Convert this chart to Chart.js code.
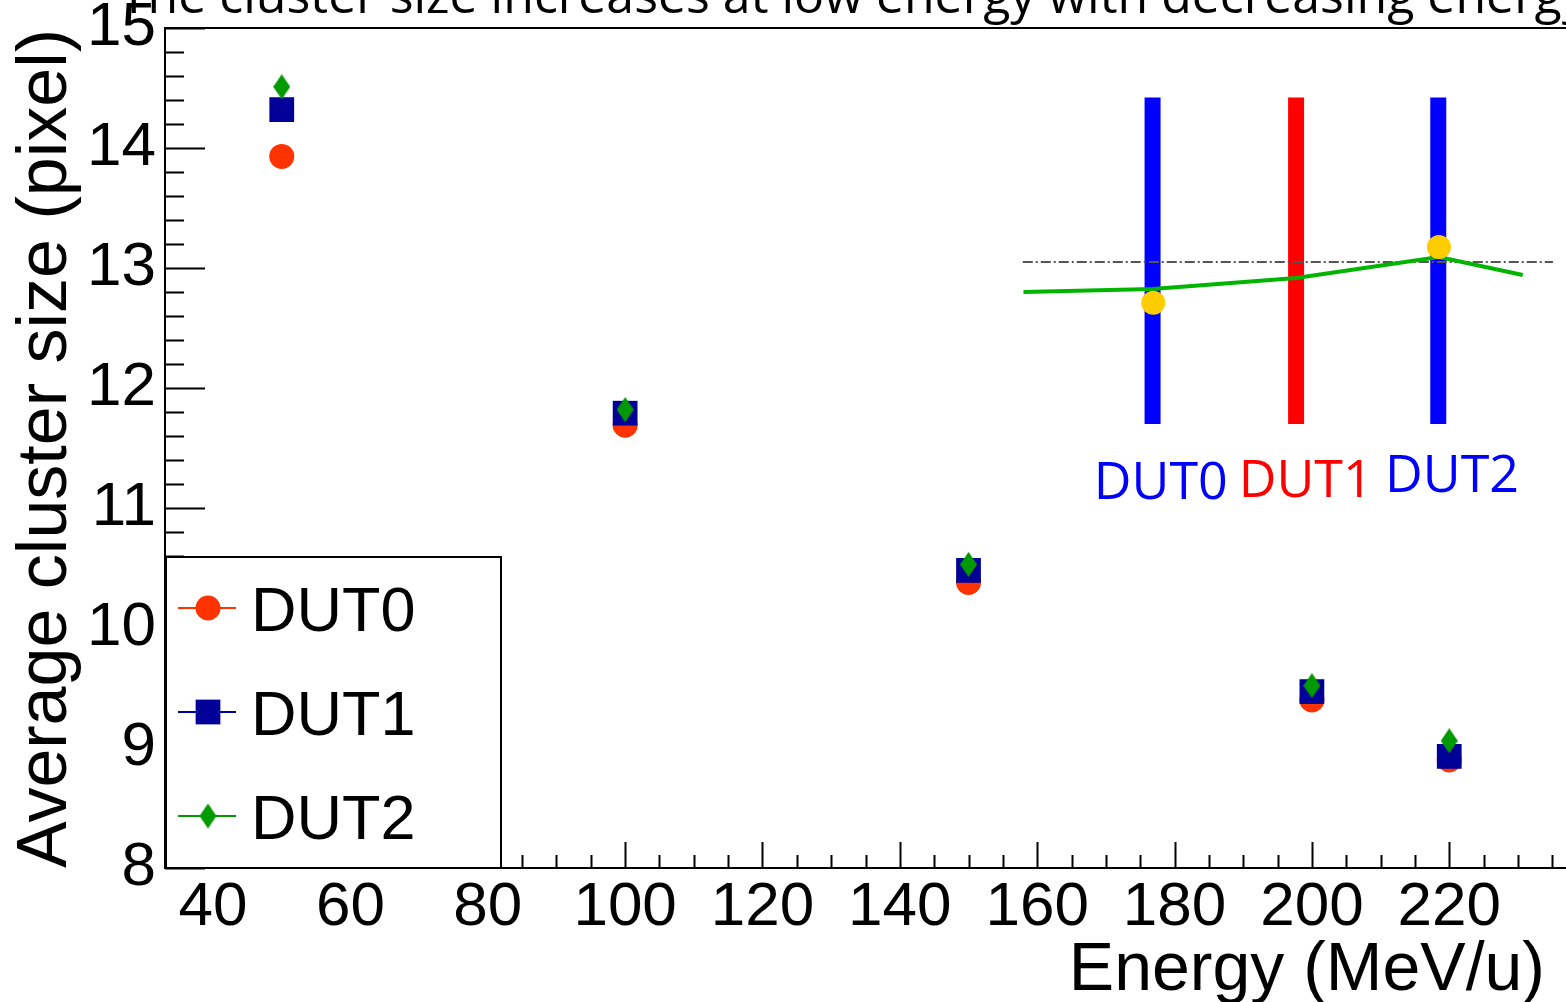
<!DOCTYPE html>
<html>
<head>
<meta charset="utf-8">
<script src="https://cdn.jsdelivr.net/npm/chart.js@4.4.1/dist/chart.umd.min.js"></script>
<style>
  html, body { margin: 0; padding: 0; background: #fff; overflow: hidden; }
  #wrap { width: 1566px; height: 1002px; position: relative; }
</style>
</head>
<body>
<div id="wrap"><canvas id="chart"></canvas></div>
<script>
const energy = [50, 100, 150, 200, 220];
const dut0Size = [13.93, 11.69, 10.38, 9.40, 8.90];
const dut1Size = [14.32, 11.79, 10.48, 9.47, 8.93];
const dut2Size = [14.51, 11.82, 10.53, 9.52, 9.06];
const seriesNames = ['DUT0', 'DUT1', 'DUT2'];
const xTickValues = [40, 60, 80, 100, 120, 140, 160, 180, 200, 220];
const yTickValues = [8, 9, 10, 11, 12, 13, 14, 15];

// inset sketch, drawn on the same axes
const insetBarX = [176.8, 197.7, 218.4];
const insetBarY = [11.70, 14.42];
const insetCurveX = [158.0, 176.8, 197.7, 218.5, 230.7];
const insetCurveY = [12.80, 12.825, 12.917, 13.092, 12.942];
const insetDotX = [176.9, 218.5];
const insetDotY = [12.71, 13.175];
const insetRefX = [157.9, 235.1];
const insetRefY = 13.05;
const insetLabels = ['DUT0', 'DUT1', 'DUT2'];

const titleText = 'The cluster size increases at low energy with decreasing energy';
const xTitle = 'Energy (MeV/u)';
const yTitle = 'Average cluster size (pixel)';

const colors = ['#ff3300', '#000099', '#009900'];
const HELV = "'Liberation Sans', Arial, sans-serif";
const OPEN = "'Open Sans', sans-serif";

function makeDiamond(color, w, h) {
    const c = document.createElement('canvas');
    c.width = w; c.height = h;
    const g = c.getContext('2d');
    g.fillStyle = color;
    g.beginPath();
    g.moveTo(w / 2, 0); g.lineTo(w, h / 2); g.lineTo(w / 2, h); g.lineTo(0, h / 2);
    g.closePath();
    g.fill();
    return c;
}
const diamond = makeDiamond(colors[2], 17, 25);

const pts = (xs, ys) => xs.map((x, i) => ({x: x, y: ys[i]}));

const markerStyles = [
    {pointStyle: 'circle', radius: 12.5},
    {pointStyle: 'rect', radius: 17.5},
    {pointStyle: diamond, radius: 13}
];

const mainSets = [dut0Size, dut1Size, dut2Size].map((vals, i) => ({
    label: seriesNames[i],
    data: pts(energy, vals),
    showLine: false,
    backgroundColor: colors[i],
    borderColor: colors[i],
    pointStyle: markerStyles[i].pointStyle,
    pointRadius: markerStyles[i].radius,
    pointBorderWidth: 0,
    order: 3 - i
}));

const barSets = insetBarX.map((bx, i) => ({
    label: 'bar' + i,
    data: insetBarY.map(v => ({x: bx, y: v})),
    showLine: true,
    borderColor: i === 1 ? '#ff0000' : '#0000ff',
    borderWidth: 16,
    borderCapStyle: 'butt',
    pointRadius: 0,
    order: 20
}));

const insetSets = [
    {
        label: 'ref',
        data: insetRefX.map(x => ({x: x, y: insetRefY})),
        showLine: true,
        borderColor: '#555555',
        borderWidth: 2,
        borderDash: [10, 3, 2, 3],
        pointRadius: 0,
        order: 15
    },
    {
        label: 'curve',
        data: pts(insetCurveX, insetCurveY),
        showLine: true,
        borderColor: '#00b400',
        borderWidth: 4,
        pointRadius: 0,
        order: 12
    },
    {
        label: 'dots',
        data: pts(insetDotX, insetDotY),
        showLine: false,
        backgroundColor: '#ffcc00',
        borderColor: '#ffcc00',
        pointRadius: 12,
        pointBorderWidth: 0,
        order: 10
    }
];

const rootStyle = {
    id: 'rootStyle',
    afterDraw(chart) {
        const {ctx, chartArea: a, scales: {x, y}} = chart;
        ctx.save();
        ctx.strokeStyle = '#000';
        ctx.lineWidth = 2;

        // frame top
        ctx.beginPath();
        ctx.moveTo(a.left, a.top); ctx.lineTo(a.right, a.top);
        ctx.stroke();

        // inside ticks, x
        ctx.beginPath();
        for (let v = 35; v <= 237; v += 5) {
            const px = Math.round(x.getPixelForValue(v)) + 0.5;
            const len = v % 20 === 0 ? 26 : 13;
            ctx.moveTo(px, a.bottom); ctx.lineTo(px, a.bottom - len);
        }
        // inside ticks, y
        for (let k = 0; k <= 35; k++) {
            const v = 8 + k * 0.2;
            const py = Math.round(y.getPixelForValue(v)) + 0.5;
            const len = k % 5 === 0 ? 40 : 19;
            ctx.moveTo(a.left, py); ctx.lineTo(a.left + len, py);
        }
        ctx.stroke();

        // titles
        ctx.fillStyle = '#000';
        ctx.font = '50px ' + OPEN;
        ctx.textAlign = 'left';
        ctx.textBaseline = 'alphabetic';
        ctx.fillText(titleText, 120, 13);

        ctx.font = '68px ' + HELV;
        ctx.textAlign = 'right';
        ctx.fillText(xTitle, 1545, 990);

        ctx.save();
        ctx.font = '70px ' + HELV;
        ctx.translate(66, 29);
        ctx.rotate(-Math.PI / 2);
        ctx.fillText(yTitle, 0, 0);
        ctx.restore();

        // inset labels
        ctx.font = '52px ' + OPEN;
        ctx.textAlign = 'center';
        const labelPos = [[178.0, 11.075], [199.1, 11.09], [220.4, 11.13]];
        insetLabels.forEach((t, i) => {
            ctx.fillStyle = i === 1 ? '#ff0000' : '#0000ff';
            ctx.fillText(t, x.getPixelForValue(labelPos[i][0]), y.getPixelForValue(labelPos[i][1]));
        });

        // legend box
        const lx = a.left, ly = a.top + 528, lw = 336, lh = a.bottom - ly;
        ctx.fillStyle = '#fff';
        ctx.fillRect(lx, ly, lw, lh);
        ctx.strokeStyle = '#000';
        ctx.strokeRect(lx + 1, ly + 1, lw - 1, lh - 1);
        ctx.font = '63px ' + HELV;
        ctx.textAlign = 'left';
        mainSets.forEach((ds, i) => {
            const cy = ly + 52 + i * 104;
            ctx.strokeStyle = ds.borderColor;
            ctx.lineWidth = 2;
            ctx.beginPath();
            ctx.moveTo(lx + 13, cy); ctx.lineTo(lx + 71, cy);
            ctx.stroke();
            ctx.fillStyle = ds.backgroundColor;
            Chart.helpers.drawPoint(ctx, {
                pointStyle: ds.pointStyle, radius: ds.pointRadius, rotation: 0, borderWidth: 0
            }, lx + 43, cy);
            ctx.fillStyle = '#000';
            ctx.fillText(ds.label, lx + 86, cy + 23);
        });
        ctx.restore();
    }
};

new Chart(document.getElementById('chart'), {
    type: 'scatter',
    data: {datasets: [...mainSets, ...insetSets, ...barSets]},
    options: {
        responsive: true,
        maintainAspectRatio: false,
        animation: false,
        layout: {autoPadding: false, padding: {top: 28, right: 0, left: 0, bottom: 0}},
        plugins: {legend: {display: false}, tooltip: {enabled: false}},
        scales: {
            x: {
                type: 'linear',
                min: 33,
                max: 237,
                afterFit: s => { s.height = 134; },
                afterBuildTicks: s => { s.ticks = xTickValues.map(v => ({value: v})); },
                grid: {display: true, drawOnChartArea: false, drawTicks: false},
                border: {display: true, color: '#000', width: 2},
                ticks: {
                    color: '#000',
                    padding: 3,
                    maxRotation: 0,
                    autoSkip: false,
                    font: {family: HELV, size: 62, lineHeight: 1.2}
                }
            },
            y: {
                type: 'linear',
                min: 8,
                max: 15,
                afterFit: s => { s.width = 165; },
                afterBuildTicks: s => { s.ticks = yTickValues.map(v => ({value: v})); },
                grid: {display: true, drawOnChartArea: false, drawTicks: false},
                border: {display: true, color: '#000', width: 2},
                ticks: {
                    color: '#000',
                    padding: 9,
                    autoSkip: false,
                    font: {family: HELV, size: 62, lineHeight: 0.5}
                }
            }
        }
    },
    plugins: [rootStyle]
});
</script>
</body>
</html>
